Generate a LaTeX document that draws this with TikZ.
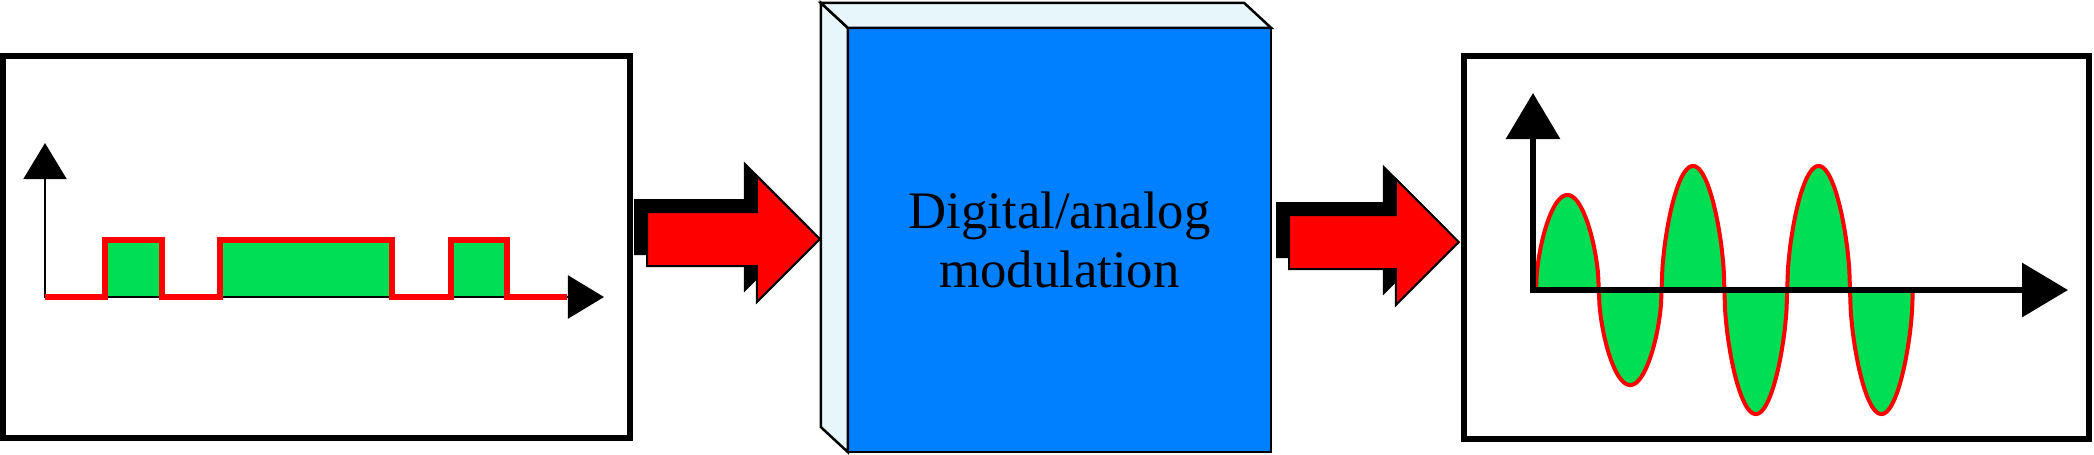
\documentclass[tikz,border=0pt]{standalone}
\usepackage{fontspec}
\setmainfont{Liberation Serif}
\usetikzlibrary{arrows.meta,calc,positioning}
\definecolor{siggreen}{RGB}{0,222,84}
\definecolor{modblue}{RGB}{0,128,255}
\definecolor{facecyan}{RGB}{230,246,250}
\tikzset{panel/.style={draw,line width=0.06cm,minimum width=6.27cm,minimum height=3.82cm,outer sep=0pt},
  modbox/.style={draw,line width=0.025cm,fill=modblue,minimum width=4.23cm,minimum height=4.24cm,outer sep=0pt,inner sep=0pt,align=center,font=\fontsize{15pt}{16.8pt}\selectfont},
  side/.style={draw,line width=0.025cm,fill=facecyan},
  sig/.style={red,line width=0.055cm},
  smallax/.style={line width=0.02cm,{Triangle[length=0.36cm,width=0.43cm]}-{Triangle[length=0.36cm,width=0.43cm]}},
  bigax/.style={line width=0.065cm,{Triangle[length=0.46cm,width=0.53cm]}-{Triangle[length=0.46cm,width=0.53cm]}}}
\newcommand{\blockarrow}[2]{%
  \foreach \d/\col in {-12/black,0/red}
    \filldraw[fill=\col,draw=black,line width=0.02cm] ($(#1|-#2)+(\d,\d-27)$) -- ($(#2)+(\d-63,\d-27)$) -- ($(#2)+(\d-63,\d-63)$) -- ($(#2)+(\d,\d)$) -- ($(#2)+(\d-63,\d+63)$) -- ($(#2)+(\d-63,\d+27)$) -- ($(#1|-#2)+(\d,\d+27)$) -- cycle;}
\begin{document}
\begin{tikzpicture}[x=0.01cm,y=-0.01cm]
\useasboundingbox (0,0) rectangle (2094,454);
\node[panel] (inbox) at (316.5,247) {};
\node[panel,minimum width=6.25cm,minimum height=3.83cm] (outbox) at (1776.5,247.5) {};
\node[modbox] (dac) at (1059.5,240) {Digital/analog\\modulation};
\filldraw[side] (dac.north west) -- ++(-27,-25) -- ($(dac.south west)+(-27,-25)$) -- (dac.south west) -- cycle;
\filldraw[side] (dac.north west) -- ++(-27,-25) -- ($(dac.north east)+(-27,-25)$) -- (dac.north east) -- cycle;
% block arrows
\coordinate (a1tail) at ($(inbox.east)+(17,0)$);
\coordinate (a1tip) at ($(dac.west)+(-28,-1)$);
\coordinate (a2tail) at ($(dac.east)+(18,0)$);
\coordinate (a2tip) at ($(outbox.west)+(-5,-5.5)$);
\blockarrow{a1tail}{a1tip}
\blockarrow{a2tail}{a2tip}
% digital signal
\foreach \a/\b in {105/162,220/392,451/507} \fill[siggreen] (\a,240) rectangle (\b,297);
\draw[smallax] (45,143) -- (45,297) -- (604,297);
\draw[sig] (45,297) -| (105,240) -| (162,297) -| (220,240) -| (392,297) -| (451,240) -| (507,297) -- (567,297);
% analog signal
\foreach \k/\amp in {0/95,1/-95,2/124,3/-124,4/124,5/-124}
  \filldraw[fill=siggreen,draw=red,line width=0.04cm] plot[domain=0:180,samples=91,smooth,variable=\t] ({1536+62.8*\k+62.8*\t/180},{290-(\amp)*pow(abs(sin(\t)),0.55)});
\draw[bigax] (1533,93) -- (1533,290) -- (2068,290);
\end{tikzpicture}
\end{document}
